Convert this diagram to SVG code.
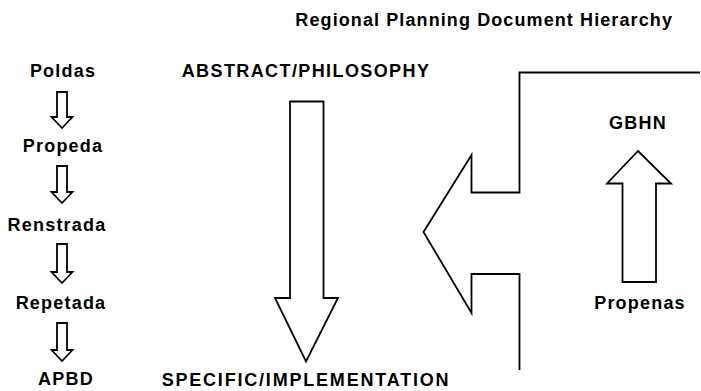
<svg xmlns="http://www.w3.org/2000/svg" width="701" height="391" viewBox="0 0 701 391">
<style>
  text { font-family: "Liberation Sans", Arial, sans-serif; font-weight: bold; fill: #000; font-size: 18px; letter-spacing: 1.2px; text-anchor: middle; }
  .shape { fill: #fff; stroke: #000; stroke-width: 1.8; stroke-linejoin: miter; }
  .line { fill: none; stroke: #000; stroke-width: 1.8; }
</style>
<rect width="701" height="391" fill="#fff"/>
<text id="title" x="673" y="26" style="text-anchor:end;letter-spacing:1.1px">Regional Planning Document Hierarchy</text>

<g id="poldas"><text x="63" y="77">Poldas</text></g>
<g id="propeda"><text x="63" y="152">Propeda</text></g>
<g id="renstrada"><text x="57" y="231">Renstrada</text></g>
<g id="repetada"><text x="61" y="309">Repetada</text></g>
<g id="apbd"><text x="66" y="385">APBD</text></g>

<g id="connectors">
  <polygon class="shape" points="57,92 67,92 67,117 72.5,117 62,128 51.5,117 57,117"/>
  <polygon class="shape" points="57,166 67,166 67,192 72.5,192 62,203 51.5,192 57,192"/>
  <polygon class="shape" points="57,244 67,244 67,272 72.5,272 62,283 51.5,272 57,272"/>
  <polygon class="shape" points="57,323 67,323 67,350 72.5,350 62,361 51.5,350 57,350"/>
</g>

<g id="abstract"><text x="306" y="77" style="letter-spacing:1.4px">ABSTRACT/PHILOSOPHY</text></g>
<g id="specific"><text x="306" y="386" style="letter-spacing:1.8px">SPECIFIC/IMPLEMENTATION</text></g>
<g id="down-arrow">
  <polygon class="shape" points="290,101.5 323.5,101.5 323.5,298 338,298 306,361.5 275,298 290,298"/>
</g>

<g id="bracket-arrow">
  <path class="line" d="M700,72.5 L519.5,72.5 L519.5,192.5 L471.5,192.5 L471.5,155 L423.5,232 L471.5,313 L471.5,274 L519.5,274 L519.5,370"/>
</g>

<g id="gbhn"><text x="638" y="129">GBHN</text></g>
<g id="propenas"><text x="640" y="309">Propenas</text></g>
<g id="up-arrow">
  <polygon class="shape" points="638,151 671,183.5 656,183.5 656,282 622.5,282 622.5,183.5 607,183.5"/>
</g>
</svg>
